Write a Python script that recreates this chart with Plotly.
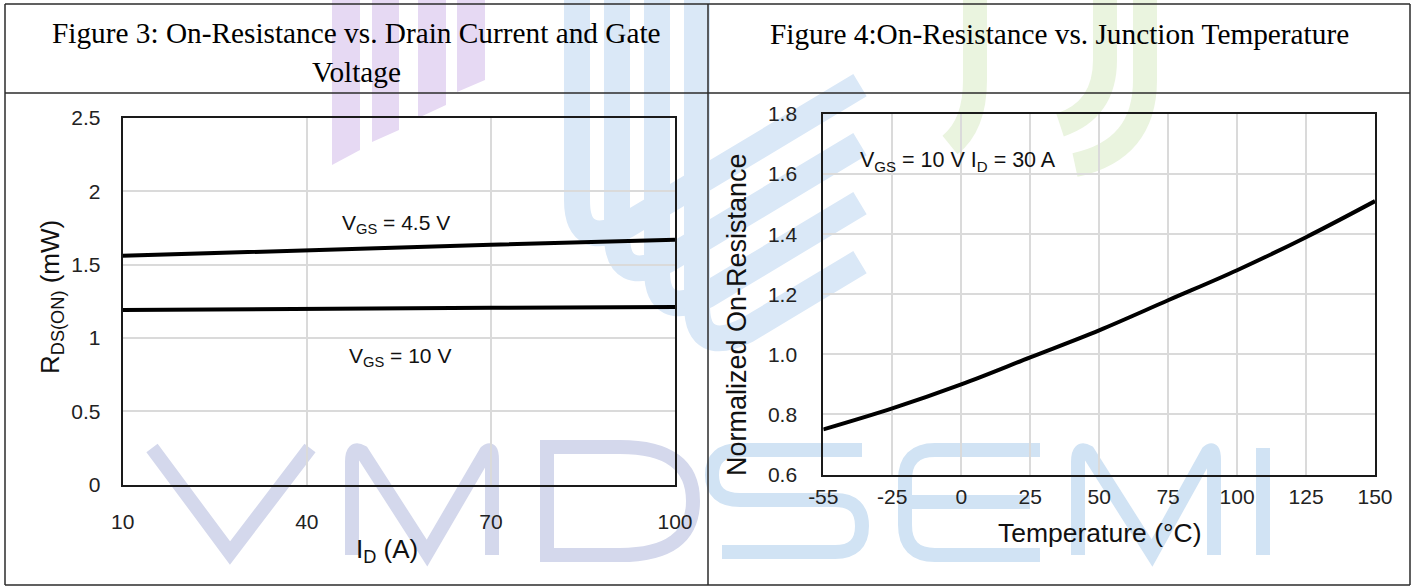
import plotly.graph_objects as go

W, H = 1415, 588

# ---------------- data ----------------
id_amps = [10, 40, 70, 100]
rds_vgs45 = [1.56, 1.60, 1.635, 1.67]
rds_vgs10 = [1.19, 1.20, 1.205, 1.21]

temps = [-55, -25, 0, 25, 50, 75, 100, 125, 150]
norm_ron = [0.75, 0.82, 0.90, 0.99, 1.08, 1.18, 1.28, 1.39, 1.51]
temp_labels = [str(t) for t in temps]

left_yticks = [0, 0.5, 1, 1.5, 2, 2.5]
right_yticks = [0.6, 0.8, 1.0, 1.2, 1.4, 1.6, 1.8]

TITLE3_L1 = "Figure 3: On-Resistance vs. Drain Current and Gate"
TITLE3_L2 = "Voltage"
TITLE4 = "Figure 4:On-Resistance vs. Junction Temperature"

# ---------------- helpers (pixel -> paper) ----------------
def fx(x):
    return x / W

def fy(y):
    return 1 - y / H

def path(cmds):
    out = []
    for c in cmds:
        op = c[0]
        pts = c[1:]
        coords = []
        for i in range(0, len(pts), 2):
            coords.append(f"{fx(pts[i]):.5f},{fy(pts[i+1]):.5f}")
        out.append(op + " ".join(coords))
    return " ".join(out)

SANS = "Liberation Sans, Arial, sans-serif"
SERIF = "Liberation Serif, Times New Roman, serif"

fig = go.Figure()

fig.add_trace(go.Scatter(x=id_amps, y=rds_vgs45, mode="lines",
                         line=dict(color="black", width=4), xaxis="x", yaxis="y"))
fig.add_trace(go.Scatter(x=id_amps, y=rds_vgs10, mode="lines",
                         line=dict(color="black", width=4), xaxis="x", yaxis="y"))
fig.add_trace(go.Scatter(x=temp_labels, y=norm_ron, mode="lines",
                         line=dict(color="black", width=4, shape="spline"),
                         xaxis="x2", yaxis="y2"))

shapes = []

# ---------- watermark (below everything) ----------
purple = "#e6d9f3"
bars = [
    [(332, 0), (360, 0), (360, 150), (332, 165)],
    [(372, 0), (399, 0), (399, 130), (372, 142)],
    [(418, 0), (446, 0), (446, 105), (418, 118)],
    [(457, 0), (485, 0), (485, 80), (457, 92)],
]
for b in bars:
    cmds = [("M",) + b[0]] + [("L",) + p for p in b[1:]] + [("Z",)]
    shapes.append(dict(type="path", xref="paper", yref="paper", layer="below",
                       path=path(cmds), fillcolor=purple, line=dict(width=0)))

blue_band = "#dae8f7"
for i in range(4):
    xi = 577 + 40 * i
    yb = 250 + 35 * i
    xs = xi + 50
    ys = yb - 25
    xe = 860
    ye = ys - 0.6 * (xe - xs)
    cmds = [("M", xi, 0), ("L", xi, yb - 50), ("Q", xi, yb, xs, ys), ("L", xe, ye)]
    shapes.append(dict(type="path", xref="paper", yref="paper", layer="below",
                       path=path(cmds), line=dict(color=blue_band, width=26)))

green_band = "#eaf4df"
for cmds in [
    [("M", 1145, 0), ("L", 1145, 80), ("Q", 1145, 150, 1075, 165)],
    [("M", 1105, 0), ("L", 1105, 60), ("Q", 1105, 110, 1060, 125)],
    [("M", 975, 0), ("L", 975, 80), ("Q", 975, 125, 950, 145)],
]:
    shapes.append(dict(type="path", xref="paper", yref="paper", layer="below",
                       path=path(cmds), line=dict(color=green_band, width=24)))

vmd = "#d4d8ec"
semi = "#d1e3f4"
letters = [
    ([("M", 152, 448), ("L", 230, 553), ("L", 310, 448)], vmd),
    ([("M", 352, 555), ("L", 352, 462), ("Q", 352, 446, 362, 452), ("L", 427, 553),
      ("L", 486, 452), ("Q", 492, 446, 492, 460), ("L", 492, 555)], vmd),
    ([("M", 547, 555), ("L", 547, 447), ("L", 620, 447), ("Q", 693, 447, 693, 501),
      ("Q", 693, 555, 620, 555), ("Z",)], vmd),
    ([("M", 862, 450), ("L", 740, 450), ("Q", 712, 450, 712, 475), ("Q", 712, 500, 740, 500),
      ("L", 835, 500), ("Q", 862, 500, 862, 526), ("Q", 862, 552, 835, 552), ("L", 722, 552)], semi),
    ([("M", 1040, 450), ("L", 935, 450), ("Q", 905, 450, 905, 480), ("L", 905, 525),
      ("Q", 905, 555, 935, 555), ("L", 1040, 555)], semi),
    ([("M", 905, 502), ("L", 1030, 502)], semi),
    ([("M", 1078, 555), ("L", 1078, 462), ("Q", 1078, 446, 1088, 452), ("L", 1152, 553),
      ("L", 1208, 452), ("Q", 1214, 446, 1214, 460), ("L", 1214, 555)], semi),
    ([("M", 1263, 448), ("L", 1263, 555)], semi),
]
for cmds, col in letters:
    shapes.append(dict(type="path", xref="paper", yref="paper", layer="below",
                       path=path(cmds), fillcolor="rgba(0,0,0,0)",
                       line=dict(color=col, width=14)))

# ---------- table borders ----------
border = dict(color="#2b2b2b", width=1.5)
for (x0, y0, x1, y1) in [(5, 4, 1410, 4), (5, 585, 1410, 585), (5, 4, 5, 585),
                         (1410, 4, 1410, 585), (708, 4, 708, 585), (5, 93, 1410, 93)]:
    shapes.append(dict(type="line", xref="paper", yref="paper", layer="above",
                       x0=fx(x0), y0=fy(y0), x1=fx(x1), y1=fy(y1), line=border))

annotations = [
    dict(text=TITLE3_L1, x=fx(356), y=fy(33), font=dict(family=SERIF, size=29.3, color="black")),
    dict(text=TITLE3_L2, x=fx(356), y=fy(72), font=dict(family=SERIF, size=29.3, color="black")),
    dict(text=TITLE4, x=fx(1059), y=fy(34), font=dict(family=SERIF, size=29.3, color="black")),
    # axis titles
    dict(text="R<sub>DS(ON)</sub> (mW)", x=fx(52), y=fy(297), textangle=-90,
         font=dict(family=SANS, size=26, color="#111")),
    dict(text="I<sub>D</sub> (A)", x=fx(387), y=fy(550),
         font=dict(family=SANS, size=26, color="#111")),
    dict(text="Normalized On-Resistance", x=fx(737), y=fy(314), textangle=-90,
         font=dict(family=SANS, size=27, color="#111")),
    dict(text="Temperature (°C)", x=fx(1100), y=fy(533),
         font=dict(family=SANS, size=26.5, color="#111")),
    # curve labels
    dict(text="V<sub>GS</sub> = 4.5 V", x=fx(396), y=fy(224),
         font=dict(family=SANS, size=21, color="#111")),
    dict(text="V<sub>GS</sub> = 10 V", x=fx(400), y=fy(357),
         font=dict(family=SANS, size=21, color="#111")),
    dict(text="V<sub>GS</sub> = 10 V I<sub>D</sub> = 30 A", x=fx(958), y=fy(162),
         font=dict(family=SANS, size=21.5, color="#111")),
]
for a in annotations:
    a.update(xref="paper", yref="paper", showarrow=False, xanchor="center", yanchor="middle")

tickfont = dict(family=SANS, size=21, color="#222")
common = dict(showgrid=True, gridcolor="#dadada", gridwidth=1.5, zeroline=False,
              showline=True, mirror=True, linecolor="#1a1a1a", linewidth=2,
              ticks="outside", tickcolor="rgba(0,0,0,0)", tickfont=tickfont,
              automargin=False)

fig.update_layout(
    width=W, height=H, autosize=False,
    margin=dict(l=0, r=0, t=0, b=0, pad=0, autoexpand=False),
    paper_bgcolor="white", plot_bgcolor="rgba(0,0,0,0)",
    showlegend=False,
    xaxis=dict(domain=[fx(122.7), fx(675)], range=[10, 100], tickvals=id_amps,
               anchor="y", ticklen=17, **common),
    yaxis=dict(domain=[fy(484.5), fy(118)], range=[0, 2.5], tickvals=left_yticks,
               anchor="x", ticklen=16, **common),
    xaxis2=dict(domain=[fx(823.3), fx(1375)], type="category", range=[0, 8],
                anchor="y2", ticklen=2, **common),
    yaxis2=dict(domain=[fy(474.5), fy(114)], range=[0.6, 1.8], tickvals=right_yticks,
                tickformat=".1f", anchor="x2", ticklen=20, **common),
    shapes=shapes,
    annotations=annotations,
)

fig.write_html("out.html", config={"displayModeBar": False})
